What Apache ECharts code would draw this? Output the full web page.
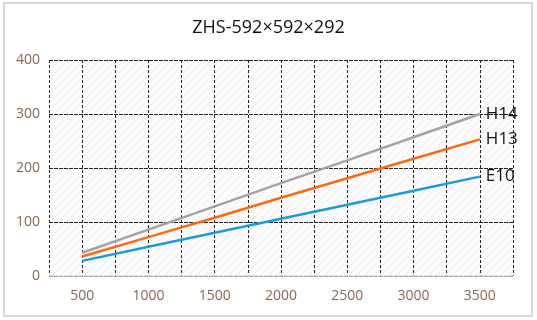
<!DOCTYPE html>
<html>
<head>
<meta charset="utf-8">
<script src="https://cdn.jsdelivr.net/npm/echarts@6/dist/echarts.min.js"></script>
<style>
  html, body { margin: 0; padding: 0; background: #fff; }
  #chart { width: 537px; height: 320px; }
</style>
</head>
<body>
<div id="chart"></div>
<script>
const title = "ZHS-592×592×292";
const airflow = [500, 1000, 1500, 2000, 2500, 3000, 3500];
const e10 = [28, 54, 80, 106, 132, 158, 184];
const h13 = [36, 72, 108, 145, 181, 217, 253];
const h14 = [43, 86, 129, 172, 214, 257, 300];

// light dotted hatch used as the plot background
function hatch() {
  const c = document.createElement("canvas");
  c.width = 8;
  c.height = 8;
  const g = c.getContext("2d");
  g.fillStyle = "#fcfcfc";
  g.fillRect(0, 0, 8, 8);
  g.fillStyle = "#e2e2e2";
  g.fillRect(1, 6, 1, 1);
  g.fillRect(3, 4, 1, 1);
  g.fillRect(5, 2, 1, 1);
  g.fillRect(7, 0, 1, 1);
  return c;
}

const pairs = (ys) => airflow.map((x, i) => [x, ys[i]]);
const labelColor = "#8f6650";
const font = "'Open Sans', 'Noto Sans', sans-serif";

function line(name, ys, color) {
  return {
    name: name,
    type: "line",
    data: pairs(ys),
    symbol: "none",
    lineStyle: { color: color, width: 2.5 },
    itemStyle: { color: color },
    endLabel: {
      show: true,
      formatter: name,
      color: "#111",
      fontSize: 17,
      fontFamily: font,
      distance: 6
    }
  };
}

const chart = echarts.init(document.getElementById("chart"));
chart.setOption({
  animation: false,
  title: {
    text: title,
    left: "center",
    top: 14,
    textStyle: { color: "#111", fontSize: 18, fontWeight: "normal", fontFamily: font }
  },
  graphic: [{
    type: "rect",
    shape: { x: 4, y: 3, width: 528, height: 313 },
    style: { fill: "none", stroke: "#d9d9d9", lineWidth: 2 },
    silent: true
  }],
  grid: {
    left: 49, right: 24, top: 60, bottom: 44,
    show: true,
    borderWidth: 0,
    backgroundColor: { image: hatch(), repeat: "repeat" }
  },
  xAxis: {
    type: "value",
    min: 250,
    max: 3750,
    interval: 250,
    axisLine: { show: true, lineStyle: { color: "#d9d9d9", width: 1.5 } },
    axisTick: { show: false },
    axisLabel: {
      color: labelColor,
      fontSize: 14,
      fontFamily: font,
      margin: 13,
      formatter: (v) => (v % 500 === 0 && v <= 3500 ? String(v) : "")
    },
    splitLine: { show: true, lineStyle: { color: "#222", type: [3, 2], width: 1 } }
  },
  yAxis: {
    type: "value",
    min: 0,
    max: 400,
    interval: 100,
    axisLine: { show: false },
    axisTick: { show: false },
    axisLabel: { color: labelColor, fontSize: 14, fontFamily: font, margin: 9 },
    splitLine: { show: true, lineStyle: { color: "#222", type: [4, 1], width: 1 } }
  },
  series: [
    line("H14", h14, "#a5a3a1"),
    line("H13", h13, "#fb6a12"),
    line("E10", e10, "#1c9bd6")
  ]
});
</script>
</body>
</html>
